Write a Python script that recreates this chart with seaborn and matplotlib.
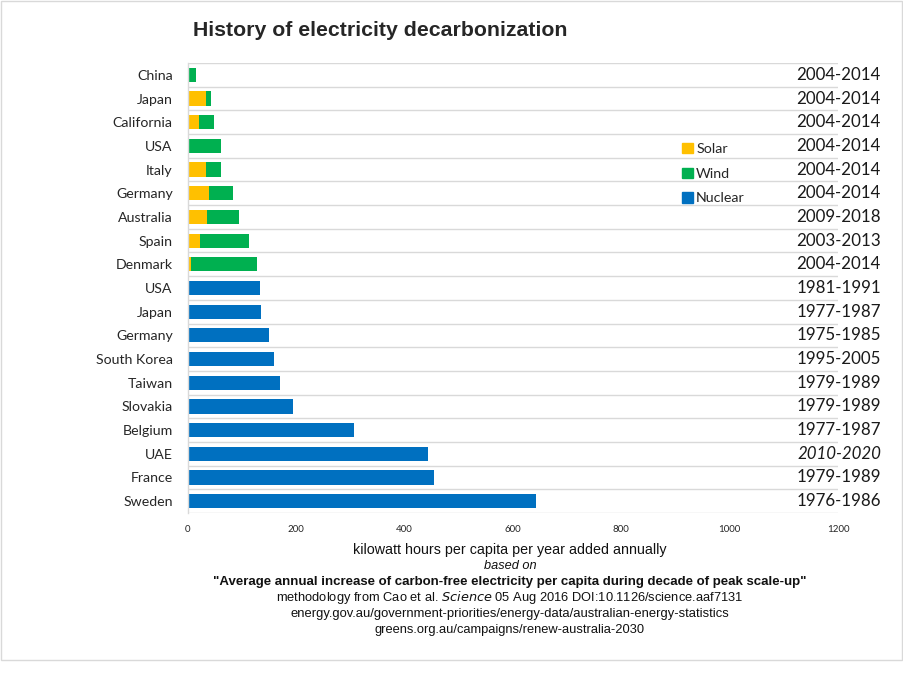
import matplotlib
matplotlib.use("Agg")
import matplotlib.pyplot as plt
import matplotlib.patches as mpatches
import numpy as np
import pandas as pd
import seaborn as sns

# data (kWh per capita per year added annually)
countries = ["China", "Japan", "California", "USA", "Italy", "Germany", "Australia",
             "Spain", "Denmark", "USA", "Japan", "Germany", "South Korea", "Taiwan",
             "Slovakia", "Belgium", "UAE", "France", "Sweden"]
solar = [0, 33, 21, 0, 34, 38, 36, 23, 6, 0, 0, 0, 0, 0, 0, 0, 0, 0, 0]
wind = [15, 10, 27, 61, 27, 46, 59, 90, 122, 0, 0, 0, 0, 0, 0, 0, 0, 0, 0]
nuclear = [0, 0, 0, 0, 0, 0, 0, 0, 0, 132, 134, 150, 159, 170, 193, 307, 444, 455, 643]
periods = ["2004-2014", "2004-2014", "2004-2014", "2004-2014", "2004-2014", "2004-2014",
           "2009-2018", "2003-2013", "2004-2014", "1981-1991", "1977-1987", "1975-1985",
           "1995-2005", "1979-1989", "1979-1989", "1977-1987", "2010-2020", "1979-1989",
           "1976-1986"]
x_ticks = [0, 200, 400, 600, 800, 1000, 1200]

c_solar = "#FFC000"
c_wind = "#00B050"
c_nuclear = "#0070C0"
grid_col = "#D9D9D9"

df = pd.DataFrame({"country": countries, "solar": solar, "wind": wind,
                   "nuclear": nuclear, "period": periods})
df["key"] = [f"{i}_{c}" for i, c in enumerate(df["country"])]
df["renew"] = df["solar"] + df["wind"]

sns.set_theme(style="white")
plt.rcParams["font.family"] = ["Lato", "DejaVu Sans"]

fig = plt.figure(figsize=(9.04, 6.83), dpi=100)
ax = fig.add_axes([188 / 904, 1 - 513 / 683, 650 / 904, 450 / 683])

order = list(df["key"])
sns.barplot(data=df, y="key", x="renew", order=order, color=c_wind, orient="h",
            width=0.6, linewidth=0, saturation=1, ax=ax)
sns.barplot(data=df, y="key", x="solar", order=order, color=c_solar, orient="h",
            width=0.6, linewidth=0, saturation=1, ax=ax)
sns.barplot(data=df, y="key", x="nuclear", order=order, color=c_nuclear, orient="h",
            width=0.6, linewidth=0, saturation=1, ax=ax)

ax.set_xlim(0, 1200)
ax.set_ylim(len(df) - 0.5, -0.5)
ax.set_xticks(x_ticks)
ax.set_xticklabels([str(t) for t in x_ticks], fontsize=7)
ax.set_yticks(range(len(df)))
ax.set_yticklabels(df["country"], fontsize=10.2)
ax.tick_params(axis="both", length=0)
ax.tick_params(axis="y", pad=11)
ax.tick_params(axis="x", pad=9)
ax.set_xlabel("")
ax.set_ylabel("")

# gridlines between categories
ax.set_yticks(np.arange(-0.5, len(df), 1), minor=True)
ax.grid(which="minor", axis="y", color=grid_col, linewidth=1)
ax.grid(which="major", visible=False)
ax.set_axisbelow(True)
for s in ["top", "right", "bottom"]:
    ax.spines[s].set_visible(False)
ax.spines["left"].set_color(grid_col)
ax.spines["left"].set_linewidth(1)

# period labels on the right
trans = ax.get_yaxis_transform()
for i, p in enumerate(df["period"]):
    ax.text(1.066, i, p, transform=trans, ha="right", va="center", fontsize=12.2,
            color="#1a1a1a", style="italic" if df["country"][i] == "UAE" else "normal")

handles = [mpatches.Patch(color=c_solar, label="Solar"),
           mpatches.Patch(color=c_wind, label="Wind"),
           mpatches.Patch(color=c_nuclear, label="Nuclear")]
fig.legend(handles=handles, loc="upper left", bbox_to_anchor=(669 / 904, 1 - 130 / 683),
           frameon=False, fontsize=10.3, handlelength=0.75, handleheight=0.75,
           handletextpad=0.25, labelspacing=0.87)

fig.text(193 / 904, 1 - 30 / 683, "History of electricity decarbonization",
         ha="left", va="center", fontsize=15.3, fontweight="bold", family="Liberation Sans")

cx = 510 / 904
foot = dict(ha="center", va="center", family="Liberation Sans", color="#111111")
fig.text(cx, 1 - 550 / 683, "kilowatt hours per capita per year added annually",
         fontsize=10.3, **foot)
fig.text(cx, 1 - 566 / 683, "based on", fontsize=9.2, style="italic", **foot)
fig.text(cx, 1 - 582 / 683,
         "\"Average annual increase of carbon-free electricity per capita during decade of peak scale-up\"",
         fontsize=9.55, fontweight="bold", **foot)
fig.text(cx, 1 - 598 / 683,
         "methodology from Cao et al. $\\it{Science}$ 05 Aug 2016 DOI:10.1126/science.aaf7131",
         fontsize=9.3, **foot)
fig.text(cx, 1 - 614 / 683,
         "energy.gov.au/government-priorities/energy-data/australian-energy-statistics",
         fontsize=9.35, **foot)
fig.text(cx, 1 - 630 / 683, "greens.org.au/campaigns/renew-australia-2030",
         fontsize=9.3, **foot)

# chart border
fig.patches.append(mpatches.Rectangle((0.5 / 904, 1 - 660 / 683), 902 / 904, 659.5 / 683,
                                      transform=fig.transFigure, fill=False,
                                      edgecolor=grid_col, linewidth=1))

fig.savefig("out.png", dpi=100, facecolor="white")
